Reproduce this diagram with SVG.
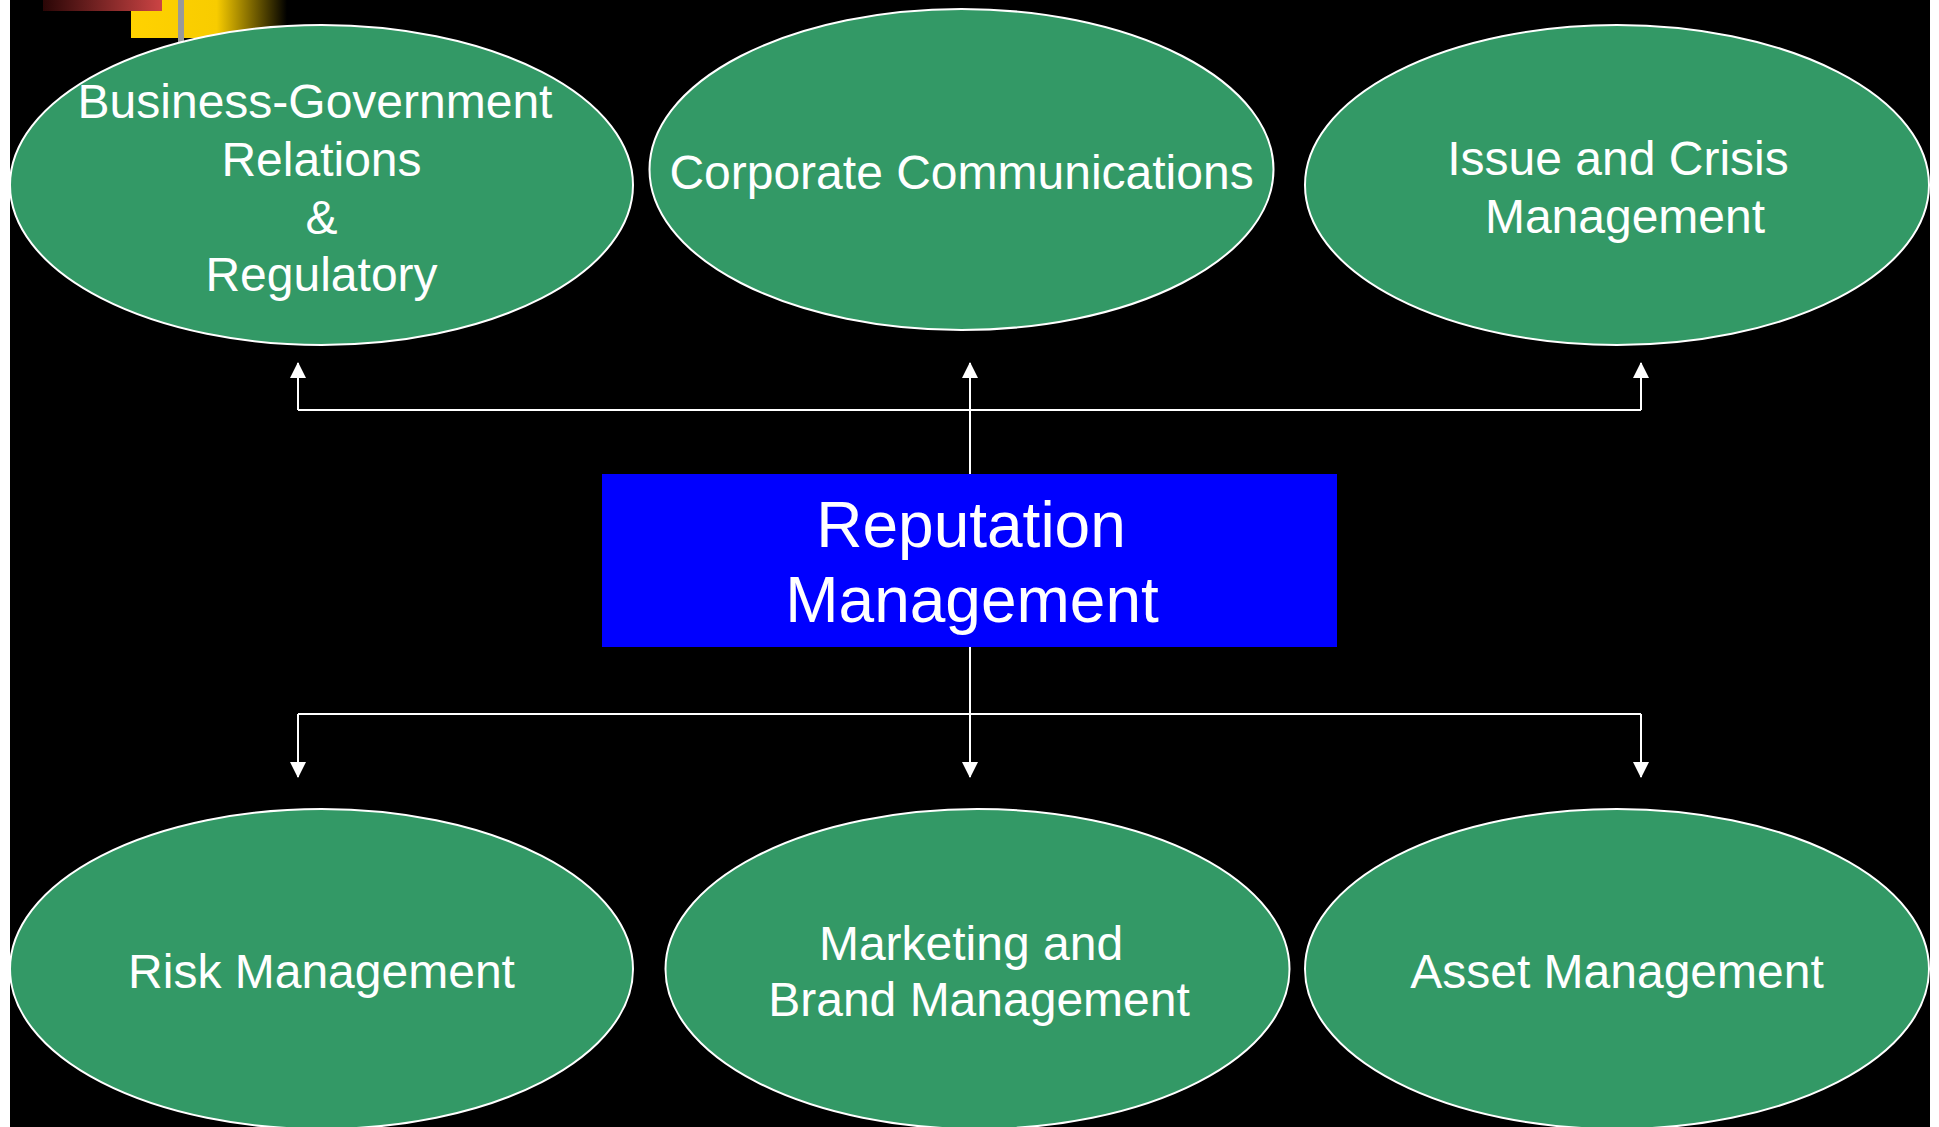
<svg xmlns="http://www.w3.org/2000/svg" width="1939" height="1127" viewBox="0 0 1939 1127">
<style>
.node ellipse{fill:#339966;stroke:#ffffff;stroke-width:2}
.t{font-family:"Liberation Sans",Arial,sans-serif;font-size:48px;fill:#ffffff;text-anchor:middle}
.tb{font-family:"Liberation Sans",Arial,sans-serif;font-size:64px;fill:#ffffff;text-anchor:middle}
.conn line,.conn path{stroke:#ffffff;stroke-width:2;fill:none}
</style>
<defs>
<marker id="arr" markerWidth="16" markerHeight="16" viewBox="0 0 16 16" refX="15" refY="8" orient="auto" markerUnits="userSpaceOnUse">
<path d="M0,0 L16,8 L0,16 Z" fill="#ffffff"/>
</marker>
<linearGradient id="gRed" x1="0" y1="0" x2="1" y2="0">
<stop offset="0" stop-color="#2a0606"/>
<stop offset="1" stop-color="#cc4444"/>
</linearGradient>
<linearGradient id="gYel" x1="0" y1="0" x2="1" y2="0">
<stop offset="0" stop-color="#ffd200"/>
<stop offset="0.55" stop-color="#f8cc00"/>
<stop offset="1" stop-color="#000000"/>
</linearGradient>
</defs>
<rect x="0" y="0" width="1939" height="1127" fill="#ffffff"/>
<rect x="10" y="0" width="1920" height="1127" fill="#000000"/>
<g id="decoration">
<rect x="131" y="0" width="156" height="38" fill="url(#gYel)"/>
<rect x="43" y="0" width="119" height="11" fill="url(#gRed)"/>
<rect x="178" y="0" width="6" height="44" fill="#999999"/>
</g>
<g id="connectors" class="conn">
<line x1="970" y1="474" x2="970" y2="363" marker-end="url(#arr)"/>
<path d="M298,410 L1641,410"/>
<line x1="298" y1="410" x2="298" y2="363" marker-end="url(#arr)"/>
<line x1="1641" y1="410" x2="1641" y2="363" marker-end="url(#arr)"/>
<line x1="970" y1="647" x2="970" y2="777" marker-end="url(#arr)"/>
<path d="M298,714 L1641,714"/>
<line x1="298" y1="714" x2="298" y2="777" marker-end="url(#arr)"/>
<line x1="1641" y1="714" x2="1641" y2="777" marker-end="url(#arr)"/>
</g>
<g id="node-bgr" class="node">
<ellipse cx="321.5" cy="185" rx="311.5" ry="160"/>
<text class="t" x="315" y="118">Business-Government</text>
<text class="t" x="321.5" y="176">Relations</text>
<text class="t" x="321.5" y="234">&amp;</text>
<text class="t" x="321.5" y="291">Regulatory</text>
</g>
<g id="node-cc" class="node">
<ellipse cx="961.5" cy="169.5" rx="312" ry="160.5"/>
<text class="t" x="961.5" y="189">Corporate Communications</text>
</g>
<g id="node-icm" class="node">
<ellipse cx="1617" cy="185" rx="312" ry="160"/>
<text class="t" x="1618" y="175">Issue and Crisis</text>
<text class="t" x="1625" y="233">Management</text>
</g>
<g id="node-rep">
<rect x="602" y="474" width="735" height="173" fill="#0000ff"/>
<text class="tb" x="971" y="547">Reputation</text>
<text class="tb" x="972" y="622">Management</text>
</g>
<g id="node-risk" class="node">
<ellipse cx="321.5" cy="969" rx="311.5" ry="160"/>
<text class="t" x="321.5" y="988">Risk Management</text>
</g>
<g id="node-mbm" class="node">
<ellipse cx="977.5" cy="969" rx="312" ry="160"/>
<text class="t" x="971" y="960">Marketing and</text>
<text class="t" x="979" y="1016">Brand Management</text>
</g>
<g id="node-asset" class="node">
<ellipse cx="1617" cy="969" rx="312" ry="160"/>
<text class="t" x="1617" y="988">Asset Management</text>
</g>
</svg>
